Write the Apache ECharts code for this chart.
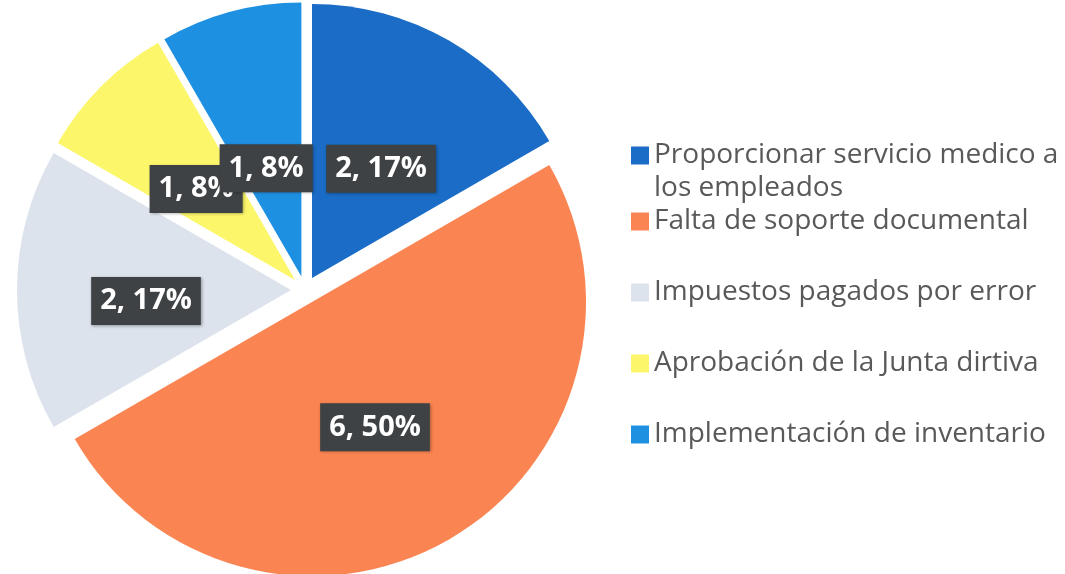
<!DOCTYPE html>
<html>
<head>
<meta charset="utf-8">
<script src="https://cdn.jsdelivr.net/npm/echarts@6/dist/echarts.min.js"></script>
<style>html,body{margin:0;padding:0;background:#fff;}#c{width:1065px;height:574px;}</style>
</head>
<body>
<div id="c"></div>
<script>
const categories = [
  'Proporcionar servicio medico a los empleados',
  'Falta de soporte documental',
  'Impuestos pagados por error',
  'Aprobación de la Junta dirtiva',
  'Implementación de inventario'
];
const values = [2, 6, 2, 1, 1];
const colors = ['#1a6cc6', '#fb8552', '#dce3ec', '#fbf66a', '#1e90e2'];
// label nudges (style only)
const labelShift = [[-1, 12], [-7, 4], [-5, 11], [0, 8], [1, 27]];

const chart = echarts.init(document.getElementById('c'));
const data = categories.map((n, i) => ({
  name: n,
  value: values[i],
  selected: true,
  itemStyle: { color: colors[i] }
}));

const legendText = {
  color: '#595959',
  fontFamily: 'Open Sans',
  fontSize: 28,
  lineHeight: 33
};

chart.setOption({
  animation: false,
  legend: [
    {
      orient: 'vertical',
      left: 631,
      top: 106,
      padding: 0,
      itemWidth: 18,
      itemHeight: 18,
      icon: 'rect',
      data: [categories[0]],
      formatter: () => '\nProporcionar servicio medico a\nlos empleados',
      textStyle: legendText
    },
    {
      orient: 'vertical',
      left: 631,
      top: 205,
      padding: 0,
      itemWidth: 18,
      itemHeight: 18,
      itemGap: 38,
      icon: 'rect',
      data: categories.slice(1),
      textStyle: legendText
    }
  ],
  series: [{
    type: 'pie',
    center: [305, 290],
    radius: [0, 274],
    startAngle: 90,
    clockwise: true,
    selectedMode: 'multiple',
    selectedOffset: 14,
    avoidLabelOverlap: false,
    emphasis: { disabled: true },
    itemStyle: { borderWidth: 0 },
    labelLayout: p => ({ dx: labelShift[p.dataIndex][0], dy: labelShift[p.dataIndex][1], hideOverlap: false }),
    label: {
      show: true,
      position: 'inside',
      formatter: p => p.value + ', ' + Math.round(p.percent) + '%',
      color: '#ffffff',
      fontFamily: 'Open Sans',
      fontWeight: 'bold',
      fontSize: 29,
      lineHeight: 36,
      backgroundColor: '#3e4244',
      padding: [6, 9, 6, 9],
      shadowColor: 'rgba(0,0,0,0.35)',
      shadowBlur: 3,
      shadowOffsetX: 1,
      shadowOffsetY: 1
    },
    labelLine: { show: false },
    data: data
  }]
});
</script>
</body>
</html>
